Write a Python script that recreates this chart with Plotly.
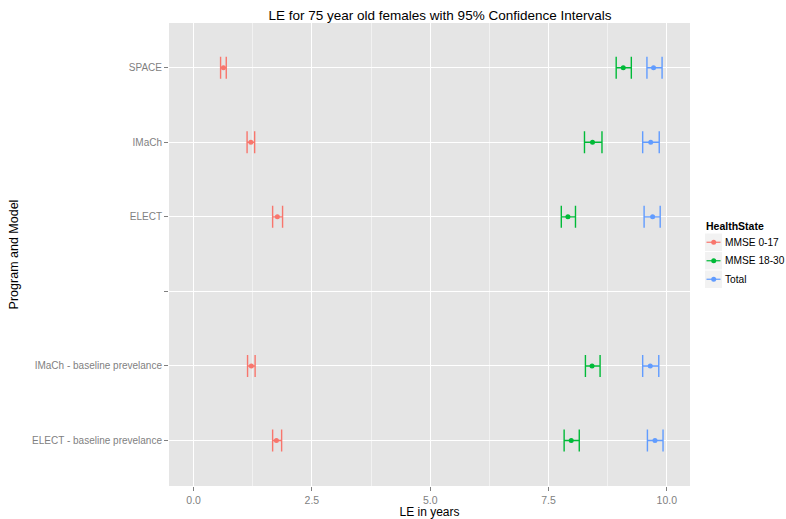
import plotly.graph_objects as go

# Programs / models, top to bottom; the empty slot separates the two groups
programs = ["SPACE", "IMaCh", "ELECT", "", "IMaCh - baseline prevelance", "ELECT - baseline prevelance"]
positions = [5, 4, 3, 2, 1, 0]

# Programs that carry estimates (the empty slot has none)
est_programs = ["SPACE", "IMaCh", "ELECT", "IMaCh - baseline prevelance", "ELECT - baseline prevelance"]

# Life expectancy (years) with 95% CI per health state
le_mmse_0_17 = [0.63, 1.21, 1.77, 1.22, 1.75]
lo_mmse_0_17 = [0.57, 1.13, 1.67, 1.14, 1.67]
hi_mmse_0_17 = [0.69, 1.29, 1.88, 1.30, 1.86]

le_mmse_18_30 = [9.08, 8.43, 7.91, 8.42, 7.98]
lo_mmse_18_30 = [8.93, 8.26, 7.77, 8.28, 7.83]
hi_mmse_18_30 = [9.25, 8.63, 8.07, 8.59, 8.15]

le_total = [9.72, 9.66, 9.70, 9.65, 9.75]
lo_total = [9.58, 9.49, 9.52, 9.49, 9.59]
hi_total = [9.90, 9.84, 9.86, 9.83, 9.92]

states = ["MMSE 0-17", "MMSE 18-30", "Total"]
colors = ["#F8766D", "#00BA38", "#619CFF"]
series = [
    (le_mmse_0_17, lo_mmse_0_17, hi_mmse_0_17),
    (le_mmse_18_30, lo_mmse_18_30, hi_mmse_18_30),
    (le_total, lo_total, hi_total),
]

x_ticks = [0, 2.5, 5, 7.5, 10]
x_tick_text = ["0.0", "2.5", "5.0", "7.5", "10.0"]

pos_of = dict(zip(programs, positions))
ys = [pos_of[p] for p in est_programs]

FONT = "Liberation Sans, Arial, sans-serif"
W, H = 786, 519
ML, MR, MT, MB = 169, 96, 23, 33
PW, PH = W - ML - MR, H - MT - MB


def px_x(px):
    """Pixel column -> paper x."""
    return (px - ML) / PW


def px_y(py):
    """Pixel row -> paper y."""
    return 1 - (py - MT) / PH


fig = go.Figure()
for name, col, (le, lo, hi) in zip(states, colors, series):
    fig.add_trace(go.Scatter(
        x=le, y=ys, mode="markers", name=name, showlegend=False,
        marker=dict(color=col, size=5),
        error_x=dict(type="data", symmetric=False,
                     array=[h - v for h, v in zip(hi, le)],
                     arrayminus=[v - l for v, l in zip(le, lo)],
                     color=col, thickness=1.4, width=11),
    ))

# Legend drawn in the right margin: grey key boxes with a line-and-point glyph
shapes = []
annotations = [dict(text="<b>HealthState</b>", x=px_x(704), y=px_y(226),
                    xref="paper", yref="paper", xanchor="left", yanchor="middle",
                    showarrow=False, font=dict(size=10.5, color="black"))]
key_top = 233
key_h = 18.5
for i, (name, col) in enumerate(zip(states, colors)):
    y0 = key_top + i * key_h
    yc = y0 + key_h / 2
    shapes.append(dict(type="rect", xref="paper", yref="paper",
                       x0=px_x(705), x1=px_x(722), y0=px_y(y0 + 0.5), y1=px_y(y0 + key_h - 0.5),
                       fillcolor="#F2F2F2", line=dict(width=0), layer="above"))
    shapes.append(dict(type="line", xref="paper", yref="paper",
                       x0=px_x(706.5), x1=px_x(720.5), y0=px_y(yc), y1=px_y(yc),
                       line=dict(color=col, width=1.2), layer="above"))
    shapes.append(dict(type="circle", xref="paper", yref="paper",
                       x0=px_x(711.2), x1=px_x(716.2), y0=px_y(yc - 2.5), y1=px_y(yc + 2.5),
                       fillcolor=col, line=dict(width=0), layer="above"))
    annotations.append(dict(text=name, x=px_x(723), y=px_y(yc),
                            xref="paper", yref="paper", xanchor="left", yanchor="middle",
                            showarrow=False, font=dict(size=10.2, color="black")))

fig.update_layout(
    width=W, height=H,
    margin=dict(l=ML, r=MR, t=MT, b=MB, autoexpand=False),
    paper_bgcolor="white", plot_bgcolor="#E5E5E5",
    font=dict(family=FONT, size=12, color="black"),
    title=dict(text="LE for 75 year old females with 95% Confidence Intervals",
               x=px_x(440), xref="paper", xanchor="center",
               y=1 - 15 / H, yref="container", yanchor="middle",
               font=dict(size=13.5, color="black")),
    showlegend=False,
    shapes=shapes,
    annotations=annotations,
)

fig.update_xaxes(
    range=[-0.52, 10.49], tickvals=x_ticks, ticktext=x_tick_text,
    showgrid=True, gridcolor="white", gridwidth=1.1,
    minor=dict(tickvals=[1.25, 3.75, 6.25, 8.75], showgrid=True,
               gridcolor="#F2F2F2", gridwidth=0.6, ticks=""),
    ticks="outside", ticklen=4, tickcolor="#7F7F7F", tickwidth=1,
    tickfont=dict(size=10.5, color="#7F7F7F"),
    zeroline=False, showline=False, automargin=False,
    title=dict(text="LE in years", font=dict(size=12), standoff=2),
)
fig.update_yaxes(
    range=[-0.61, 5.6], tickvals=positions, ticktext=programs,
    showgrid=True, gridcolor="white", gridwidth=1.1,
    ticks="outside", ticklen=4, tickcolor="#7F7F7F", tickwidth=1,
    tickfont=dict(size=10, color="#7F7F7F"),
    zeroline=False, showline=False, automargin=False,
    title=dict(text="Program and Model", font=dict(size=12.5), standoff=10),
)

fig.write_html("out.html")
